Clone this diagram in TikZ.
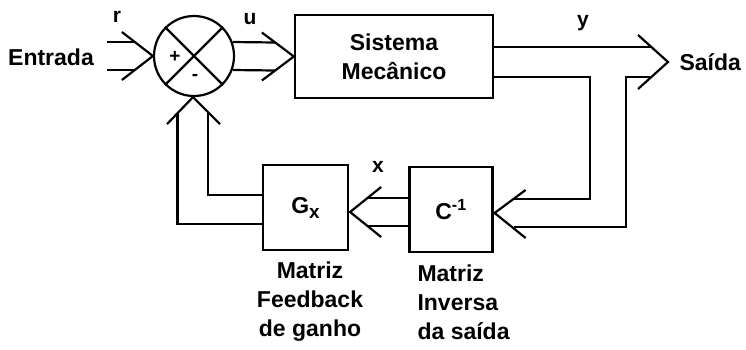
\documentclass[tikz,border=0pt]{standalone}
\usepackage{fontspec}
\setmainfont{Liberation Sans}
\usetikzlibrary{calc}
\begin{document}
\begin{tikzpicture}[x=1pt,y=-1pt,
  every node/.style={font=\bfseries\fontsize{23}{29}\selectfont},
  ln/.style={line width=2.2pt, line join=miter},
  box/.style={draw, line width=2.2pt, inner sep=0pt},
  lbl/.style={font=\bfseries\fontsize{21}{24}\selectfont},
  sgn/.style={font=\bfseries\fontsize{19}{19}\selectfont, inner sep=0pt}]
\useasboundingbox (0,0) rectangle (746,349);

% nodes
\node[draw, circle, minimum size=80pt, line width=2.2pt, inner sep=0pt] (sum) at (194,56) {};
\draw[ln] (sum.north west) -- (sum.south east);
\draw[ln] (sum.north east) -- (sum.south west);
\node[sgn] (plus) at (175,57) {+};
\node[sgn] (minus) at (195,77) {-};

\node[box, minimum width=198pt, minimum height=83pt, align=center] (sys) at (394,56.5) {Sistema\\Mecânico};
\node[box, minimum width=85pt, minimum height=85pt] (gx) at (305.5,207.5) {G\raisebox{-5pt}{\fontsize{19}{19}\selectfont x}};
\node[box, minimum width=83pt, minimum height=85pt] (cinv) at (451,209.5) {C\textsuperscript{-1}};

\node (entrada) at (51,57) {Entrada};
\node[anchor=west] (saida) at (676,62) {Saída};
\node[align=center] (mf) at (310,302) {Matriz\\Feedback\\de ganho};
\node[align=left, anchor=west] (mi) at (414,302) {Matriz\\Inversa\\da saída};

\node[lbl] (r) at (117,17) {r};
\node[lbl] (u) at (250,19) {u};
\node[lbl] (y) at (583,23) {y};
\node[lbl] (x) at (378,167) {x};

% Entrada -> sum
\draw[ln] ($(sum.west)+(-31,-24)$) -- (sum.west) -- ($(sum.west)+(-31,24)$);
\draw[ln] ($(sum.west)+(-46,-14)$) -- ($(sum.west)+(-18,-14)$);
\draw[ln] ($(sum.west)+(-46,14)$) -- ($(sum.west)+(-18,14)$);

% sum -> sys
\draw[ln] ($(sys.west)+(-32,-24)$) -- (sys.west) -- ($(sys.west)+(-32,24)$);
\draw[ln] ($(sum.east)+(-2.5,-14)$) -- ($(sys.west)+(-19,-14)$);
\draw[ln] ($(sum.east)+(-2.5,14)$) -- ($(sys.west)+(-19,14)$);

% sys -> Saida
\coordinate (sout) at (668,62);
\draw[ln] ($(sout)+(-30,-27)$) -- (sout) -- ($(sout)+(-30,27)$);
\draw[ln] ($(sys.east)+(0,-9.5)$) -- ($(sout)+(-17,-15)$);

% feedback to C^-1
\coordinate (cin) at ($(cinv.east)+(1,3.5)$);
\draw[ln] ($(cin)+(31,-23)$) -- (cin) -- ($(cin)+(31,25)$);
\draw[ln] ($(sys.east)+(0,20.5)$) -| ($(cin)+(95.5,-14)$) -- ($(cin)+(19,-14)$);
\draw[ln] ($(sout)+(-18,15)$) -| ($(cin)+(131.5,14)$) -- ($(cin)+(19,14)$);

% C^-1 -> G
\coordinate (gin) at ($(gx.east)+(1,4.5)$);
\coordinate (cw) at (gin -| cinv.west);
\draw[ln] ($(gin)+(31,-25)$) -- (gin) -- ($(gin)+(31,25)$);
\draw[ln] ($(gin)+(17,-14)$) -- ($(cw)+(0,-14)$);
\draw[ln] ($(gin)+(17,14)$) -- ($(cw)+(0,14)$);

% G -> sum
\coordinate (sin) at ($(sum.south)+(-1,0)$);
\draw[ln] ($(sin)+(-26,27)$) -- (sin) -- ($(sin)+(27,27)$);
\draw[ln] ($(sin)+(15,15.5)$) |- ($(gx.west)+(0,-12.5)$);
\draw[ln] ($(sin)+(-15.5,16)$) |- ($(gx.west)+(0,16.5)$);
\end{tikzpicture}
\end{document}
